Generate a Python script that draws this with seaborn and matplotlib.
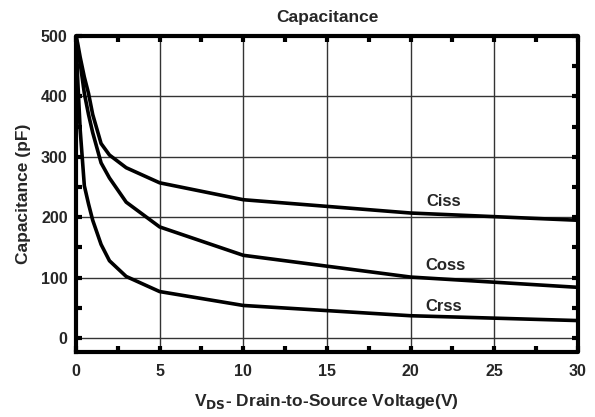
import pandas as pd
import seaborn as sns
import matplotlib.pyplot as plt
from matplotlib.ticker import MultipleLocator

vds = [0, 0.1, 0.25, 0.5, 0.75, 1, 1.5, 2, 3, 5, 10, 20, 30]
ciss = [500, 488, 465, 432, 405, 370, 322, 303, 282, 257, 229, 207, 195]
coss = [500, 480, 455, 405, 370, 340, 290, 265, 225, 184, 137, 101, 84]
crss = [500, 430, 345, 252, 222, 195, 155, 128, 102, 77, 54, 37, 29]
series = ['Ciss', 'Coss', 'Crss']
label_pos = [(22.0, 226), (22.1, 120), (22.0, 53)]

df = pd.DataFrame({'vds': vds * 3,
                   'cap': ciss + coss + crss,
                   'kind': [s for s in series for _ in vds]})

sns.set_style("ticks")
plt.rcParams['font.family'] = ['Liberation Sans', 'DejaVu Sans']
plt.rcParams['font.weight'] = 'bold'

fig = plt.figure(figsize=(5.95, 4.17), dpi=100)
ax = fig.add_axes([0.1277, 0.1559, 0.8437, 0.7578])

sns.lineplot(data=df, x='vds', y='cap', hue='kind', palette=['black'] * 3,
             linewidth=2.6, legend=False, ax=ax, sort=False)

for name, (lx, ly) in zip(series, label_pos):
    ax.text(lx, ly, name, ha='center', va='center', fontsize=12, fontweight='bold')

ax.set_xlim(0, 30)
ax.set_ylim(-23, 500)
ax.xaxis.set_major_locator(MultipleLocator(5))
ax.xaxis.set_minor_locator(MultipleLocator(2.5))
ax.yaxis.set_major_locator(MultipleLocator(100))
ax.yaxis.set_minor_locator(MultipleLocator(50))
ax.grid(True, which='major', color='#333333', linewidth=1)
ax.tick_params(which='both', direction='in', top=True, right=True,
               length=4, width=3, color='black', labelsize=11.5)
ax.tick_params(axis='x', pad=9)
ax.tick_params(axis='y', pad=6)
for t in ax.get_xticklabels() + ax.get_yticklabels():
    t.set_fontweight('bold')

# heavy frame: draw the four edges as lines in axes coords
frame_x = [0, 1, 1, 0, 0]
frame_y = [0, 0, 1, 1, 0]
ax.plot(frame_x, frame_y, transform=ax.transAxes, color='black',
        linewidth=3, clip_on=False, zorder=10, solid_capstyle='projecting')

ax.set_title('Capacitance', fontsize=12.5, fontweight='bold', pad=10)
ax.set_xlabel('V$_{\\mathbf{DS}}$- Drain-to-Source Voltage(V)', fontsize=12.5, fontweight='bold', labelpad=9)
ax.set_ylabel('Capacitance (pF)', fontsize=12.5, fontweight='bold', labelpad=7)

fig.savefig('out.png', dpi=100)
